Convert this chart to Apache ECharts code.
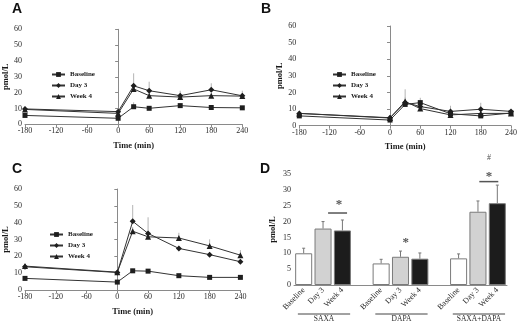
<!DOCTYPE html>
<html>
<head>
<meta charset="utf-8">
<script src="https://cdn.jsdelivr.net/npm/echarts@6/dist/echarts.min.js"></script>
<style>
  html, body { margin: 0; padding: 0; background: #fff; }
  #chart { width: 520px; height: 325px; }
</style>
</head>
<body>
<div id="chart"></div>
<script>
// time points (min) shared by panels A-C
const times = [-180, 0, 30, 60, 120, 180, 240];
const groupNames = ['Baseline', 'Day 3', 'Week 4'];

// Panel A
const baseA = [5.6, 3.8, 11.1, 10.1, 11.8, 10.6, 10.4];
const day3A = [9.7, 8.0, 24.3, 21.2, 18.1, 21.8, 18.0];
const week4A = [9.4, 6.9, 22.3, 18.1, 17.2, 18.1, 17.8];
const errBaseA = [0.6, 0.5, 2.8, 1.0, 1.5, 1.0, 1.0];
const errDay3A = [0.8, 0.7, 7.9, 5.7, 3.1, 4.1, 3.2];
const errWeek4A = [0.8, 0.7, 2.0, 1.5, 1.5, 1.5, 1.5];

// Panel B
const baseB = [5.9, 3.4, 12.8, 13.9, 7.2, 5.9, 7.6];
const day3B = [7.4, 4.8, 14.0, 11.5, 8.6, 9.9, 8.6];
const week4B = [7.4, 4.6, 14.6, 10.3, 6.5, 7.4, 7.4];
const errBaseB = [0.6, 0.5, 2.0, 2.9, 1.2, 1.0, 1.0];
const errDay3B = [0.7, 0.6, 3.0, 2.0, 3.4, 3.9, 0.8];
const errWeek4B = [0.7, 0.6, 7.3, 1.5, 1.5, 1.5, 1.2];

// Panel C
const baseC = [6.9, 4.7, 11.4, 11.2, 8.5, 7.5, 7.5];
const day3C = [13.8, 10.4, 40.8, 33.6, 24.7, 21.0, 16.8];
const week4C = [14.2, 10.6, 34.9, 31.6, 30.9, 26.2, 20.7];
const errBaseC = [0.6, 0.5, 1.2, 1.0, 1.0, 0.8, 0.8];
const errDay3C = [0.8, 0.6, 9.7, 9.6, 1.5, 1.5, 1.2];
const errWeek4C = [0.8, 0.6, 2.5, 2.0, 3.1, 3.9, 3.0];

// Panel D
const barCats = ['Baseline', 'Day 3', 'Week 4', '', 'Baseline', 'Day 3', 'Week 4', '', 'Baseline', 'Day 3', 'Week 4'];
const barValues = [10.0, 17.8, 17.2, null, 6.8, 8.9, 8.3, null, 8.4, 23.1, 25.8];
const barErrs = [1.6, 2.2, 3.3, null, 1.3, 1.8, 1.8, null, 1.4, 3.4, 5.7];
const drugGroups = ['SAXA', 'DAPA', 'SAXA+DAPA'];
const drugRanges = [[0, 2], [4, 6], [8, 10]];
// significance: [category position, value, symbol]
const sigMarks = [[1.82, 26.3, '*'], [5.27, 14.4, '*'], [9.57, 35.4, '*'], [9.57, 40.2, '#']];
// significance bars: [from, to, value]
const sigLines = [[1.26, 2.24, 22.7], [9.07, 10.05, 32.6]];

const serif = 'Liberation Serif';
const axisColor = '#8a8a8a';
const textColor = '#2a2a2a';
const barColors = ['#ffffff', '#d2d2d2', '#1c1c1c'];
const symbols = ['rect', 'diamond', 'triangle'];

const grids = [
  {left: 25, top: 29.3, width: 217.3, height: 95},
  {left: 299.3, top: 26, width: 215, height: 99.7},
  {left: 25, top: 189, width: 215.4, height: 101},
  {left: 294, top: 174, width: 213, height: 111}
];

function baseAxis(gi) {
  return {
    gridIndex: gi,
    axisLine: {lineStyle: {color: axisColor, width: 1}},
    axisTick: {length: 3, lineStyle: {color: axisColor}},
    axisLabel: {color: textColor, fontFamily: serif, fontSize: 8, margin: 3},
    splitLine: {show: false},
    nameTextStyle: {color: '#1a1a1a', fontFamily: serif, fontWeight: 'bold', fontSize: 8.5}
  };
}

const xAxes = [0, 1, 2].map(gi => Object.assign(baseAxis(gi), {
  type: 'value', min: -180, max: 240, interval: 60,
  name: 'Time (min)', nameLocation: 'middle', nameGap: 17
}));
xAxes.push(Object.assign(baseAxis(3), {
  type: 'category', data: barCats,
  axisTick: {length: 3, lineStyle: {color: axisColor}, alignWithLabel: false},
  axisLabel: {color: textColor, fontFamily: serif, fontSize: 8, margin: 4, rotate: 45, interval: 0}
}));

const yAxes = [0, 1, 2].map(gi => Object.assign(baseAxis(gi), {
  type: 'value', min: 0, max: 60, interval: 10,
  name: 'pmol/L', nameLocation: 'middle', nameGap: 15
}));
yAxes.push(Object.assign(baseAxis(3), {
  type: 'value', min: 0, max: 35, interval: 5,
  name: 'pmol/L', nameLocation: 'middle', nameGap: 17
}));

function renderErr(params, api) {
  const x = api.value(0), v = api.value(1), e = api.value(2);
  const p0 = api.coord([x, v]);
  const p1 = api.coord([x, v + e]);
  return {
    type: 'line',
    shape: {x1: p0[0], y1: p0[1], x2: p1[0], y2: p1[1]},
    style: {stroke: '#b4b4b4', lineWidth: 1}
  };
}

function renderBarErr(params, api) {
  const x = api.value(0), v = api.value(1), e = api.value(2);
  const p0 = api.coord([x, v]);
  const p1 = api.coord([x, v + e]);
  return {
    type: 'group',
    children: [
      {type: 'line', shape: {x1: p0[0], y1: p0[1], x2: p1[0], y2: p1[1]}, style: {stroke: '#777', lineWidth: 1}},
      {type: 'line', shape: {x1: p1[0] - 1.5, y1: p1[1], x2: p1[0] + 1.5, y2: p1[1]}, style: {stroke: '#777', lineWidth: 1}}
    ]
  };
}

const series = [];
const panels = [
  [[baseA, errBaseA], [day3A, errDay3A], [week4A, errWeek4A]],
  [[baseB, errBaseB], [day3B, errDay3B], [week4B, errWeek4B]],
  [[baseC, errBaseC], [day3C, errDay3C], [week4C, errWeek4C]]
];
panels.forEach((panel, gi) => {
  panel.forEach(([vals, errs], k) => {
    series.push({
      type: 'custom', xAxisIndex: gi, yAxisIndex: gi, z: 1,
      renderItem: renderErr, silent: true,
      data: times.map((t, i) => [t, vals[i], errs[i]])
    });
    series.push({
      type: 'line', name: groupNames[k], xAxisIndex: gi, yAxisIndex: gi, z: 3,
      symbol: symbols[k], symbolSize: k === 0 ? 5 : 6,
      lineStyle: {color: '#333', width: 1},
      itemStyle: {color: '#1e1e1e'},
      data: times.map((t, i) => [t, vals[i]])
    });
  });
});

// Panel D bars
series.push({
  type: 'bar', name: 'D', xAxisIndex: 3, yAxisIndex: 3, barCategoryGap: '12%',
  data: barValues.map((v, i) => ({
    value: v,
    itemStyle: {color: barColors[i % 4], borderColor: '#7a7a7a', borderWidth: 1}
  }))
});
series.push({
  type: 'custom', xAxisIndex: 3, yAxisIndex: 3, z: 3, renderItem: renderBarErr, silent: true,
  data: barValues.map((v, i) => [i, v, barErrs[i]]).filter(d => d[1] != null)
});
// drug group labels under the axis
series.push({
  type: 'custom', xAxisIndex: 3, yAxisIndex: 3, clip: false, silent: true,
  data: drugRanges.map(r => [r[0], 0]),
  renderItem: function (params, api) {
    const r = drugRanges[params.dataIndex];
    const bw = api.size([1, 0])[0];
    const a = api.coord([r[0], 0]);
    const b = api.coord([r[1], 0]);
    const x1 = a[0] - 0.3 * bw, x2 = b[0] + 0.4 * bw, y = a[1] + 29;
    return {
      type: 'group',
      children: [
        {type: 'line', shape: {x1: x1, y1: y, x2: x2, y2: y}, style: {stroke: '#444', lineWidth: 1}},
        {type: 'text', style: {text: drugGroups[params.dataIndex], x: (x1 + x2) / 2, y: y + 1.5,
          align: 'center', verticalAlign: 'top', fontFamily: serif, fontSize: 7.5, fill: textColor}}
      ]
    };
  }
});
// significance bars and marks
series.push({
  type: 'custom', xAxisIndex: 3, yAxisIndex: 3, clip: false, silent: true, z: 4,
  data: sigLines.map(s => [0, s[2]]),
  renderItem: function (params, api) {
    const s = sigLines[params.dataIndex];
    const bw = api.size([1, 0])[0];
    const c = api.coord([0, s[2]]);
    return {type: 'line', shape: {x1: c[0] + s[0] * bw, y1: c[1], x2: c[0] + s[1] * bw, y2: c[1]},
      style: {stroke: '#555', lineWidth: 1.5}};
  }
});
series.push({
  type: 'custom', xAxisIndex: 3, yAxisIndex: 3, clip: false, silent: true, z: 4,
  data: sigMarks.map(s => [0, s[1]]),
  renderItem: function (params, api) {
    const s = sigMarks[params.dataIndex];
    const bw = api.size([1, 0])[0];
    const c = api.coord([0, s[1]]);
    const star = s[2] === '*';
    return {type: 'text', style: {text: s[2], x: c[0] + s[0] * bw, y: c[1] + (star ? 3.5 : 0),
      align: 'center', verticalAlign: 'middle', fontFamily: serif, fontWeight: star ? 'bold' : 'normal',
      fontSize: star ? 13 : 8, fill: '#555'}};
  }
});

const legendBase = {
  orient: 'vertical', itemWidth: 13, itemHeight: 6, itemGap: 4,
  data: groupNames,
  textStyle: {fontFamily: serif, fontWeight: 'bold', fontSize: 7, color: '#1a1a1a'}
};

const panelTitle = (text, left, top) => ({
  text: text, left: left, top: top, padding: 0,
  textStyle: {fontFamily: 'Liberation Sans', fontWeight: 'bold', fontSize: 14, color: '#111'}
});

const chart = echarts.init(document.getElementById('chart'));
chart.setOption({
  backgroundColor: '#fff',
  animation: false,
  title: [panelTitle('A', 12, 2), panelTitle('B', 261, 2), panelTitle('C', 12, 162), panelTitle('D', 260, 162)],
  legend: [
    Object.assign({left: 46, top: 66}, legendBase),
    Object.assign({left: 327, top: 66}, legendBase),
    Object.assign({left: 44, top: 226}, legendBase)
  ],
  grid: grids,
  xAxis: xAxes,
  yAxis: yAxes,
  series: series
});
</script>
</body>
</html>
